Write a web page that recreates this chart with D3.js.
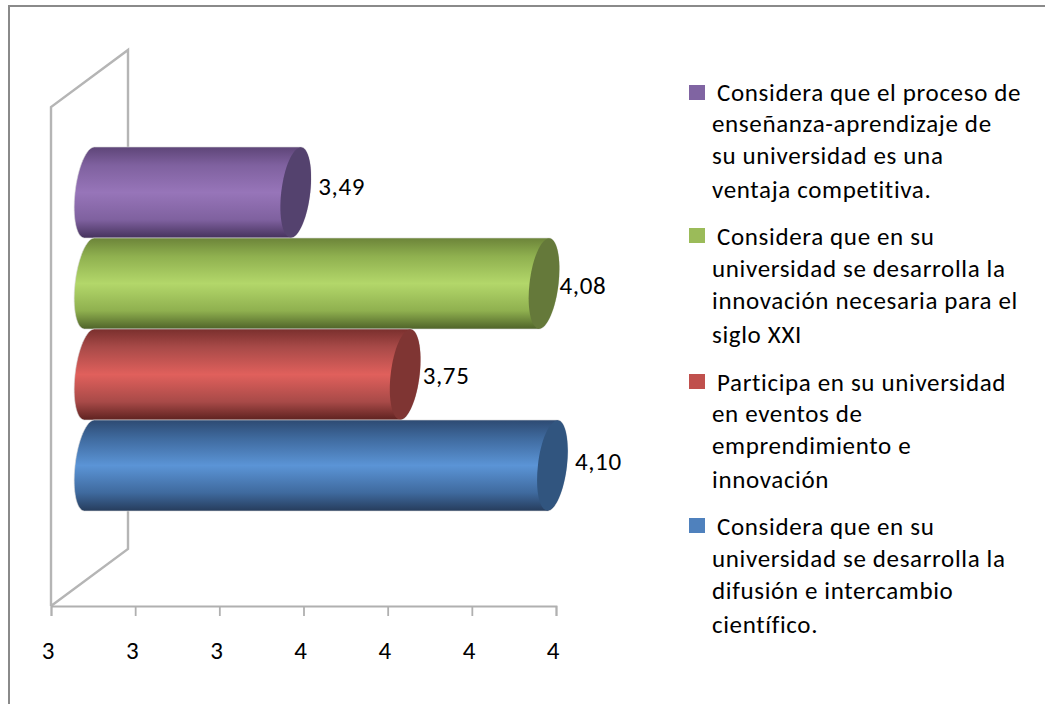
<!DOCTYPE html>
<html><head><meta charset="utf-8">
<script src="https://cdn.jsdelivr.net/npm/d3@7"></script>
<style>html,body{margin:0;background:#fff}svg{display:block}text{font-family:Carlito,Lato,"Open Sans",sans-serif;fill:#000;letter-spacing:.65px}</style>
</head><body><svg id="c" width="1045" height="704"></svg>
<script>
const categories=["blue","red","green","purple"];
const values=[4.10,3.75,4.08,3.49];
const labels=["4,10","3,75","4,08","3,49"];
const tickValues=[3.0,3.2,3.4,3.6,3.8,4.0,4.2];
const tickLabels=["3","3","3","4","4","4","4"];
const sideColors=["#31557f","#7f3533","#65793a","#54426e"];
const gradStops=[["#2d4a72","#3f6a9e","#5b94d6","#3f6a9e","#263c5c"],["#7a2f2d","#a84a48","#e0605c","#a84a48","#5e2220"],["#6c8439","#8fb04f","#b3d76a","#8fb04f","#4f6329"],["#5e4578","#7f619f","#9775b9","#7f619f","#45325c"]];
const legendOrder=[3,2,1,0];
const legendColors=["#4f81bd","#c0504d","#9bbb59","#8064a2"];
const legendLines=[
["Considera que en su","universidad se desarrolla la","difusión e intercambio","científico."],
["Participa en su universidad","en eventos de","emprendimiento e","innovación"],
["Considera que en su","universidad se desarrolla la","innovación necesaria para el","siglo XXI"],
["Considera que el proceso de","enseñanza-aprendizaje de","su universidad es una","ventaja competitiva."]];
const svg=d3.select("#c");
svg.append("path").attr("d","M1045,6H9V704").attr("fill","none").attr("stroke","#8a8a8a").attr("stroke-width",2);
const x=d3.scaleLinear().domain([3,4.2]).range([51,556]);
const y=d3.scaleBand().domain(categories).range([511,147]);
const depth=77,rise=57,shift=38.5,rx=14.5,skew=5;
const defs=svg.append("defs");
categories.forEach((c,i)=>{const g=defs.append("linearGradient").attr("id","g"+i).attr("x1",0).attr("x2",0).attr("y1",0).attr("y2",1);
 [0,.2,.5,.8,1].forEach((o,j)=>g.append("stop").attr("offset",o).attr("stop-color",gradStops[i][j]));});
const wall=d3.line();
const yb=606,yt=107;
svg.append("path").attr("d",wall([[x(3),yb],[x(3),yt],[x(3)+depth,yt-rise],[x(3)+depth,yb-rise],[x(3),yb]])).attr("fill","none").attr("stroke","#b5b5b5").attr("stroke-width",2.4);
const ax=d3.axisBottom(x).tickValues(tickValues).tickFormat((d,i)=>tickLabels[i]).tickSize(10).tickPadding(25);
const axg=svg.append("g").attr("transform",`translate(0,${yb})`).call(ax);
axg.selectAll("path,line").attr("stroke","#b0b0b0").attr("stroke-width",1.8);
axg.selectAll("text").attr("font-size",25).attr("dx",-3).style("font-family","Carlito,Lato,sans-serif");
const K=.5523;
function body(x0,x1,y0,y1){const h=(y1-y0)/2,m=y0+h;
 return `M${x0+skew},${y0}L${x1+skew},${y0}C${x1+skew+K*rx},${y0} ${x1+rx+K*skew},${m-K*h} ${x1+rx},${m}C${x1+rx-K*skew},${m+K*h} ${x1-skew+K*rx},${y1} ${x1-skew},${y1}L${x0-skew},${y1}C${x0-skew-K*rx},${y1} ${x0-rx-K*skew},${m+K*h} ${x0-rx},${m}C${x0-rx+K*skew},${m-K*h} ${x0+skew-K*rx},${y0} ${x0+skew},${y0}Z`;}
function cap(cx,y0,y1){const h=(y1-y0)/2,m=y0+h;
 return `M${cx+skew},${y0}C${cx+skew+K*rx},${y0} ${cx+rx+K*skew},${m-K*h} ${cx+rx},${m}C${cx+rx-K*skew},${m+K*h} ${cx-skew+K*rx},${y1} ${cx-skew},${y1}C${cx-skew-K*rx},${y1} ${cx-rx-K*skew},${m+K*h} ${cx-rx},${m}C${cx-rx+K*skew},${m-K*h} ${cx+skew-K*rx},${y0} ${cx+skew},${y0}Z`;}
const order=[3,2,1,0];
order.forEach(i=>{const c=categories[i],y0=y(c),y1=y0+y.bandwidth(),x0=x(3)+shift,x1=x(values[i])+shift;
 svg.append("path").attr("d",body(x0,x1,y0,y1)).attr("fill",`url(#g${i})`).attr("stroke","#d8d8d8").attr("stroke-width",.6);
 svg.append("path").attr("d",cap(x1,y0+.5,y1-.5)).attr("fill",sideColors[i]);
});
const labelDx=[8,3,1,8];
const labelDy=[4.5,9.5,10.5,2.5];
categories.forEach((c,i)=>svg.append("text").attr("x",x(values[i])+shift+rx+labelDx[i]).attr("y",y(c)+y.bandwidth()/2+labelDy[i]).attr("font-size",25).text(labels[i]));
const swatchY=[85,228,374,518],lineY=[[100.5,132,164,198],[245,277,309,343],[391,422,454,488],[535,567,599,633]];
legendOrder.forEach((s,k)=>{
 svg.append("rect").attr("x",689).attr("y",swatchY[k]).attr("width",16).attr("height",15).attr("fill",legendColors[s]);
 legendLines[s].forEach((t,j)=>svg.append("text").attr("x",j?712:717).attr("y",lineY[k][j]).attr("font-size",25).text(t));
});
</script></body></html>
